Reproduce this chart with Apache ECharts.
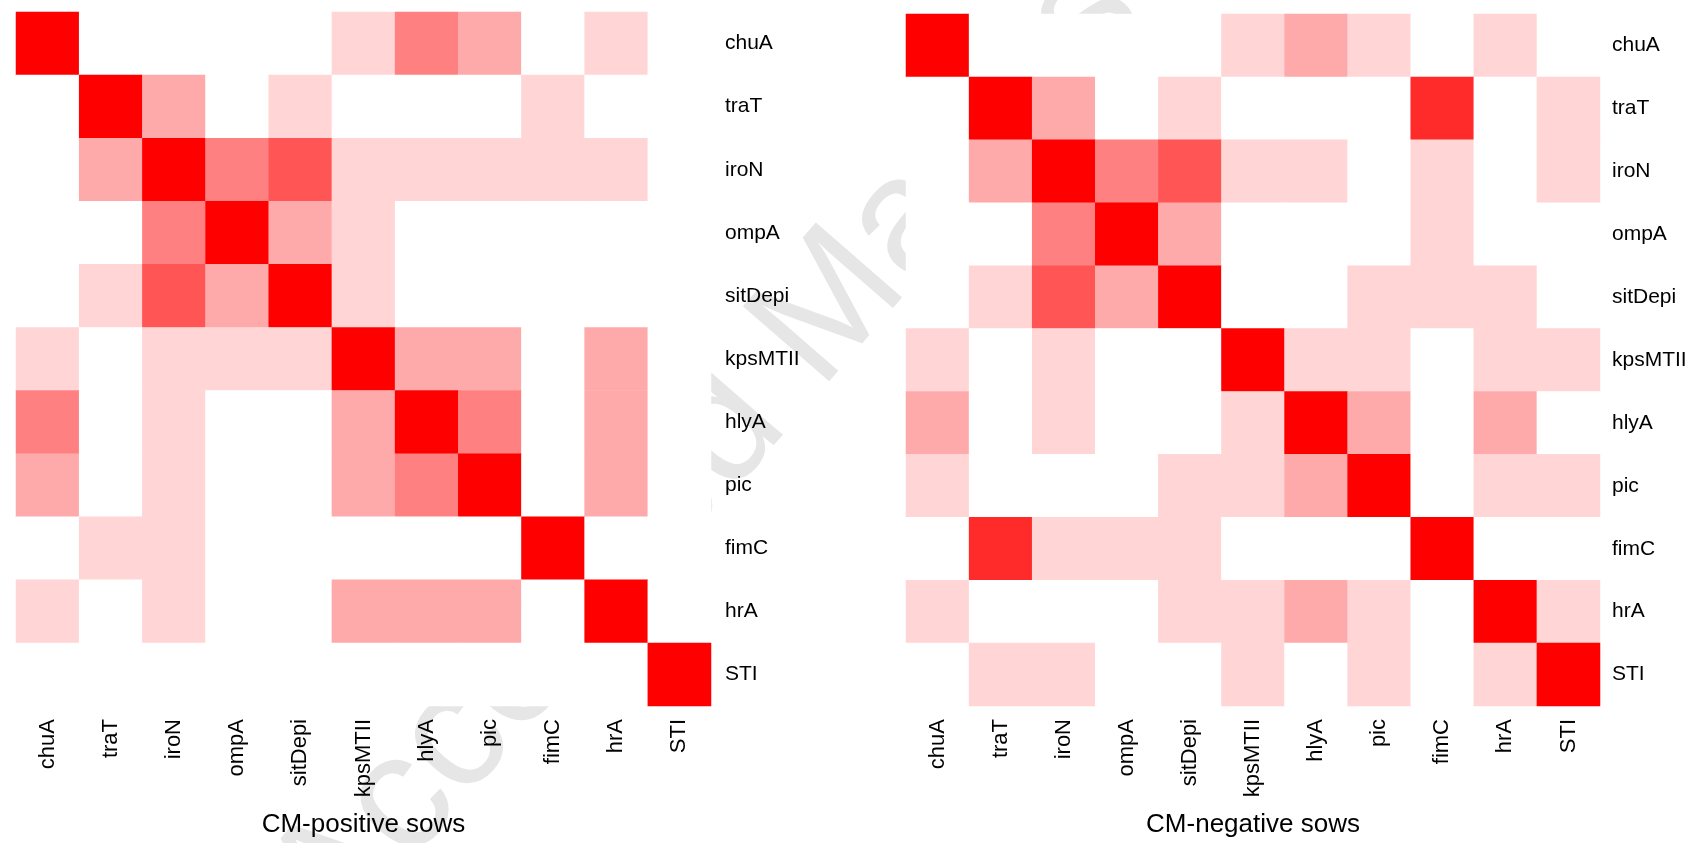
<!DOCTYPE html>
<html>
<head>
<meta charset="utf-8">
<script src="https://cdn.jsdelivr.net/npm/echarts@6/dist/echarts.min.js"></script>
<style>
  html, body { margin: 0; padding: 0; background: #ffffff; }
  #chart { width: 1692px; height: 843px; }
</style>
</head>
<body>
<div id="chart"></div>
<script>
// Gene names (columns left->right, rows top->bottom)
const genes = ['chuA', 'traT', 'iroN', 'ompA', 'sitDepi', 'kpsMTII', 'hlyA', 'pic', 'fimC', 'hrA', 'STI'];

// Association strength levels (0 = none ... 6 = maximal), read from cell shading
const positiveLevels = [
  [6, 0, 0, 0, 0, 1, 3, 2, 0, 1, 0],
  [0, 6, 2, 0, 1, 0, 0, 0, 1, 0, 0],
  [0, 2, 6, 3, 4, 1, 1, 1, 1, 1, 0],
  [0, 0, 3, 6, 2, 1, 0, 0, 0, 0, 0],
  [0, 1, 4, 2, 6, 1, 0, 0, 0, 0, 0],
  [1, 0, 1, 1, 1, 6, 2, 2, 0, 2, 0],
  [3, 0, 1, 0, 0, 2, 6, 3, 0, 2, 0],
  [2, 0, 1, 0, 0, 2, 3, 6, 0, 2, 0],
  [0, 1, 1, 0, 0, 0, 0, 0, 6, 0, 0],
  [1, 0, 1, 0, 0, 2, 2, 2, 0, 6, 0],
  [0, 0, 0, 0, 0, 0, 0, 0, 0, 0, 6]
];
const negativeLevels = [
  [6, 0, 0, 0, 0, 1, 2, 1, 0, 1, 0],
  [0, 6, 2, 0, 1, 0, 0, 0, 5, 0, 1],
  [0, 2, 6, 3, 4, 1, 1, 0, 1, 0, 1],
  [0, 0, 3, 6, 2, 0, 0, 0, 1, 0, 0],
  [0, 1, 4, 2, 6, 0, 0, 1, 1, 1, 0],
  [1, 0, 1, 0, 0, 6, 1, 1, 0, 1, 1],
  [2, 0, 1, 0, 0, 1, 6, 2, 0, 2, 0],
  [1, 0, 0, 0, 1, 1, 2, 6, 0, 1, 1],
  [0, 5, 1, 1, 1, 0, 0, 0, 6, 0, 0],
  [1, 0, 0, 0, 1, 1, 2, 1, 0, 6, 1],
  [0, 1, 1, 0, 0, 1, 0, 1, 0, 1, 6]
];
const panelTitles = ['CM-positive sows', 'CM-negative sows'];
const levelColors = ['#ffffff', '#ffd5d5', '#ffaaaa', '#ff8080', '#ff5555', '#ff2b2b', '#ff0000'];
const watermarkText = 'Accepted Manuscript';

function toCells(matrix) {
  const out = [];
  matrix.forEach((row, r) => row.forEach((v, c) => out.push([c, r, v])));
  return out;
}

const FONT = 'Liberation Sans, Arial, Helvetica, sans-serif';

function xAxisFor(gi, name) {
  return {
    type: 'category', gridIndex: gi, data: genes, position: 'bottom',
    axisLine: { show: false }, axisTick: { show: false }, splitLine: { show: false },
    axisLabel: { rotate: 90, interval: 0, margin: 13, fontSize: 22, color: '#000', fontFamily: FONT },
    name: name, nameLocation: 'middle', nameGap: 106,
    nameTextStyle: { fontSize: 26, color: '#000', fontFamily: FONT }
  };
}
function yAxisFor(gi, margin) {
  return {
    type: 'category', gridIndex: gi, data: genes, inverse: true, position: 'right',
    axisLine: { show: false }, axisTick: { show: false }, splitLine: { show: false },
    axisLabel: { interval: 0, margin: margin, fontSize: 21, color: '#000', fontFamily: FONT }
  };
}

const chart = echarts.init(document.getElementById('chart'), null, { renderer: 'canvas' });
chart.setOption({
  backgroundColor: '#ffffff',
  animation: false,
  graphic: [{
    type: 'text', z: -10, x: 364, y: 973, rotation: 49 * Math.PI / 180,
    style: { text: watermarkText, fontSize: 166, fontFamily: FONT, fill: '#e6e6e6', verticalAlign: 'bottom', align: 'left' },
    silent: true
  }],
  grid: [
    { left: 16, top: 12, width: 695, height: 695 },
    { left: 906, top: 14, width: 694, height: 693 }
  ],
  xAxis: [xAxisFor(0, panelTitles[0]), xAxisFor(1, panelTitles[1])],
  yAxis: [yAxisFor(0, 14), yAxisFor(1, 12)],
  visualMap: {
    type: 'piecewise', show: false, dimension: 2, seriesIndex: [0, 1],
    pieces: levelColors.map((c, i) => ({ value: i, color: c }))
  },
  series: [
    { type: 'heatmap', xAxisIndex: 0, yAxisIndex: 0, data: toCells(positiveLevels),
      itemStyle: { borderWidth: 0 }, emphasis: { disabled: true }, z: 2 },
    { type: 'heatmap', xAxisIndex: 1, yAxisIndex: 1, data: toCells(negativeLevels),
      itemStyle: { borderWidth: 0 }, emphasis: { disabled: true }, z: 2 }
  ]
});
</script>
</body>
</html>
